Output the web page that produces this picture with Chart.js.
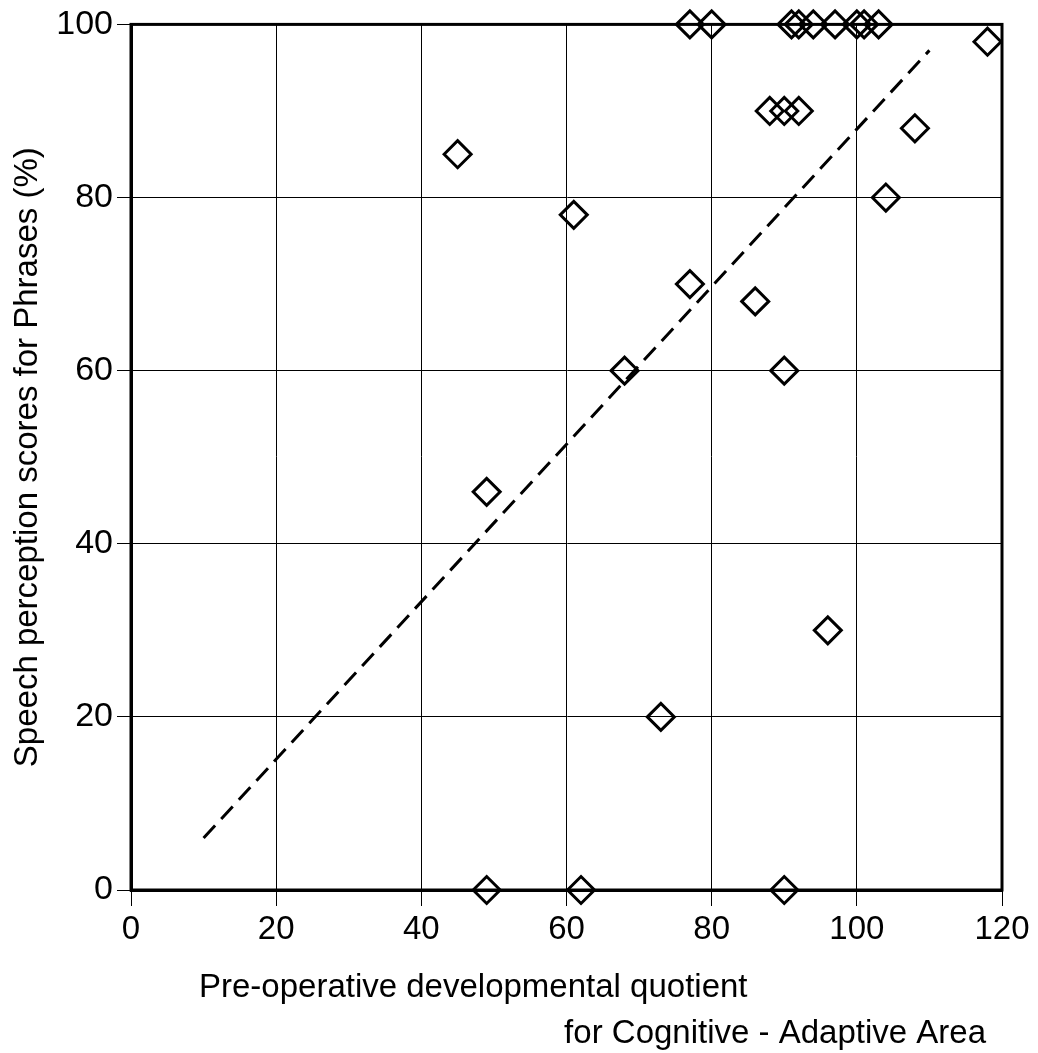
<!DOCTYPE html>
<html>
<head>
<meta charset="utf-8">
<script src="https://cdn.jsdelivr.net/npm/chart.js@4/dist/chart.umd.min.js"></script>
<style>
  html, body { margin: 0; padding: 0; background: #fff; }
  #wrap { width: 1038px; height: 1053px; position: relative; }
</style>
</head>
<body>
<div id="wrap"><canvas id="scatterChart"></canvas></div>
<script>
// ── DATA ────────────────────────────────────────────────────

const quotient = [45, 61, 49, 77, 68, 86, 90, 73, 96, 104, 108, 118,
                  88, 90, 92,
                  77, 80, 91, 92, 94, 97, 100, 101, 103,
                  49, 62, 90];
const phraseScore = [85, 78, 46, 70, 60, 68, 60, 20, 30, 80, 88, 98,
                     90, 90, 90,
                     100, 100, 100, 100, 100, 100, 100, 100, 100,
                     0, 0, 0];

const fitX = [10, 110];
const fitY = [6, 97];

const xTicks = [0, 20, 40, 60, 80, 100, 120];
const yTicks = [0, 20, 40, 60, 80, 100];

const xTitle = ['Pre-operative developmental quotient', 'for Cognitive - Adaptive Area'];
const yTitle = 'Speech perception scores for Phrases (%)';


// ── PLUGINS ─────────────────────────────────────────────────

// thick frame on top and right (left/bottom come from the axis borders)
const framePlugin = {
  id: 'frame',
  beforeDatasetsDraw(chart) {
    const { ctx, chartArea: a } = chart;
    ctx.save();
    ctx.strokeStyle = '#000';
    ctx.lineWidth = 3;
    ctx.strokeRect(a.left, a.top, a.right - a.left, a.bottom - a.top);
    ctx.restore();
  }
};

// two-line x title, first line left, second line pushed right
const xTitlePlugin = {
  id: 'xTitle',
  afterDraw(chart) {
    const { ctx, chartArea: a } = chart;
    ctx.save();
    ctx.fillStyle = '#000';
    ctx.font = '33px "Liberation Sans", Arial, sans-serif';
    ctx.textBaseline = 'alphabetic';
    ctx.textAlign = 'left';
    ctx.fillText(xTitle[0], a.left + 68, a.bottom + 107);
    ctx.textAlign = 'right';
    ctx.fillText(xTitle[1], a.right - 16, a.bottom + 153);
    ctx.restore();
  }
};


// ── CHART ───────────────────────────────────────────────────

Chart.defaults.font.family = '"Liberation Sans", Arial, sans-serif';
Chart.defaults.color = '#000';

const ctx = document.getElementById('scatterChart').getContext('2d');

new Chart(ctx, {
  type: 'scatter',
  data: {
    datasets: [
      {
        label: 'Patients',
        data: quotient.map((x, i) => ({ x: x, y: phraseScore[i] })),
        pointStyle: 'rectRot',
        pointRadius: 13.5,
        pointHoverRadius: 13.5,
        pointBorderWidth: 3,
        borderColor: '#000',
        backgroundColor: 'rgba(0,0,0,0)',
        clip: false,
        order: 1
      },
      {
        type: 'line',
        label: 'Fit',
        data: fitX.map((x, i) => ({ x: x, y: fitY[i] })),
        borderColor: '#000',
        borderWidth: 3,
        borderDash: [17, 9],
        pointRadius: 0,
        fill: false,
        order: 2
      }
    ]
  },
  options: {
    responsive: true,
    maintainAspectRatio: false,
    animation: false,
    layout: { padding: { top: 22, right: 36, left: 0, bottom: 0 } },
    plugins: {
      legend: { display: false },
      tooltip: { enabled: false }
    },
    scales: {
      x: {
        type: 'linear',
        min: 0,
        max: 120,
        afterBuildTicks: s => { s.ticks = xTicks.map(v => ({ value: v })); },
        afterFit: s => { s.height = 163; },
        ticks: { font: { size: 33 }, padding: 4, color: '#000' },
        grid: { color: '#000', lineWidth: 1, tickLength: 16, tickColor: '#000', tickWidth: 1 },
        border: { display: true, color: '#000', width: 3 }
      },
      y: {
        type: 'linear',
        min: 0,
        max: 100,
        afterBuildTicks: s => { s.ticks = yTicks.map(v => ({ value: v })); },
        afterFit: s => { s.width = 131; },
        ticks: { font: { size: 34 }, padding: 4, color: '#000' },
        grid: { color: '#000', lineWidth: 1, tickLength: 14, tickColor: '#000', tickWidth: 1 },
        border: { display: true, color: '#000', width: 3 },
        title: {
          display: true,
          text: yTitle,
          font: { size: 33 },
          color: '#000',
          padding: { top: 8, bottom: 0 }
        }
      }
    }
  },
  plugins: [framePlugin, xTitlePlugin]
});
</script>
</body>
</html>
